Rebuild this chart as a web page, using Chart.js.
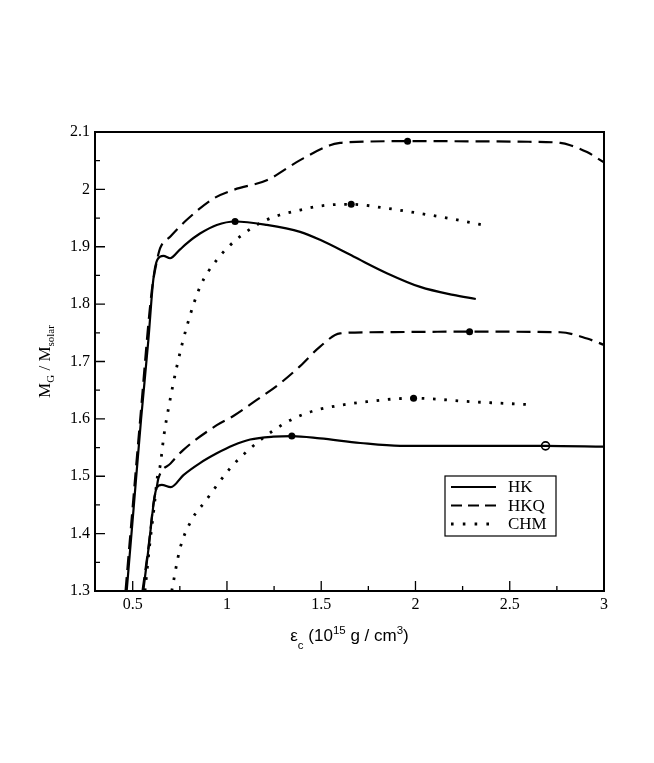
<!DOCTYPE html>
<html><head><meta charset="utf-8">
<script src="https://cdn.jsdelivr.net/npm/chart.js@4.4.1/dist/chart.umd.min.js"></script>
<style>html,body{margin:0;padding:0;background:#fff}#wrap{width:654px;height:763px}</style>
</head><body><div id="wrap"><canvas id="c" width="654" height="763"></canvas></div>
<script>
// ---- tick values ----
const xMajorTicks = [0.5, 1, 1.5, 2, 2.5, 3];
const xMinorTicks = [0.75, 1.25, 1.75, 2.25, 2.75];
const yMajorTicks = [1.3, 1.4, 1.5, 1.6, 1.7, 1.8, 1.9, 2.0, 2.1];
const yMinorTicks = [1.35, 1.45, 1.55, 1.65, 1.75, 1.85, 1.95, 2.05];
const legendLabels = ['HK', 'HKQ', 'CHM'];

// ---- upper family ----
const hk1X  = [0.468, 0.505, 0.544, 0.583, 0.609, 0.630, 0.663, 0.698, 0.750, 0.787, 0.857, 0.946, 1.043, 1.211, 1.388, 1.494, 1.671, 1.848, 2.025, 2.200, 2.320];
const hk1Y  = [1.300, 1.445, 1.598, 1.737, 1.842, 1.877, 1.884, 1.880, 1.895, 1.906, 1.923, 1.938, 1.944, 1.938, 1.926, 1.912, 1.883, 1.854, 1.830, 1.816, 1.809];
const hkq1X = [0.462, 0.540, 0.600, 0.625, 0.645, 0.700, 0.787, 0.928, 1.034, 1.211, 1.388, 1.547, 1.600, 1.636, 1.958, 2.600, 2.768, 2.821, 2.910, 3.000];
const hkq1Y = [1.300, 1.600, 1.820, 1.870, 1.897, 1.918, 1.947, 1.984, 1.999, 2.016, 2.051, 2.077, 2.081, 2.082, 2.084, 2.083, 2.081, 2.077, 2.065, 2.047];
const chm1X = [0.565, 0.590, 0.615, 0.631, 0.645, 0.666, 0.693, 0.734, 0.787, 0.857, 0.946, 1.070, 1.211, 1.388, 1.547, 1.659, 1.848, 2.025, 2.202, 2.388];
const chm1Y = [1.300, 1.380, 1.450, 1.499, 1.517, 1.572, 1.624, 1.691, 1.761, 1.830, 1.877, 1.918, 1.947, 1.964, 1.973, 1.974, 1.967, 1.958, 1.948, 1.936];

// ---- lower family ----
const hk2X  = [0.556, 0.585, 0.612, 0.627, 0.654, 0.702, 0.769, 0.857, 0.946, 1.034, 1.123, 1.246, 1.344, 1.494, 1.707, 1.919, 2.200, 2.690, 3.000];
const hk2Y  = [1.300, 1.377, 1.455, 1.480, 1.485, 1.481, 1.502, 1.523, 1.540, 1.554, 1.564, 1.569, 1.570, 1.566, 1.558, 1.553, 1.553, 1.553, 1.5515];
const hkq2X = [0.552, 0.585, 0.612, 0.628, 0.636, 0.700, 0.769, 0.946, 1.034, 1.158, 1.282, 1.388, 1.494, 1.600, 1.760, 2.287, 2.768, 2.910, 3.000];
const hkq2Y = [1.300, 1.380, 1.457, 1.482, 1.496, 1.522, 1.546, 1.589, 1.605, 1.633, 1.662, 1.692, 1.726, 1.749, 1.751, 1.752, 1.751, 1.740, 1.729];
const chm2X = [0.707, 0.751, 0.813, 0.884, 1.017, 1.105, 1.238, 1.350, 1.441, 1.494, 1.742, 1.990, 2.290, 2.595];
const chm2Y = [1.300, 1.374, 1.424, 1.456, 1.514, 1.543, 1.578, 1.600, 1.612, 1.617, 1.630, 1.636, 1.630, 1.625];

// ---- maximum-mass markers ----
const peakX = [1.043, 1.958, 1.659, 1.344, 2.287, 1.990];
const peakY = [1.944, 2.084, 1.974, 1.570, 1.752, 1.636];
const openX = [2.690];
const openY = [1.553];

const pts = (xs, ys) => xs.map((v, i) => ({x: v, y: ys[i]}));
const DASH = [14, 7];
const DOT = [2.6, 8.7];
function curve(xs, ys, kind) {
  const d = {
    data: pts(xs, ys), showLine: true, fill: false, pointRadius: 0, pointHoverRadius: 0,
    borderColor: '#000', borderWidth: 2.2, cubicInterpolationMode: 'monotone', borderCapStyle: 'butt'
  };
  if (kind === 'dash') d.borderDash = DASH;
  if (kind === 'dot') { d.borderDash = DOT; d.borderWidth = 2.8; }
  return d;
}

const deco = {
  id: 'deco',
  afterDraw(chart) {
    const {ctx, chartArea: a, scales: {x, y}} = chart;
    ctx.save();
    ctx.strokeStyle = '#000';
    ctx.lineWidth = 1.3;
    ctx.beginPath();
    xMajorTicks.forEach(v => { const p = x.getPixelForValue(v); ctx.moveTo(p, a.bottom); ctx.lineTo(p, a.bottom - 10); });
    xMinorTicks.forEach(v => { const p = x.getPixelForValue(v); ctx.moveTo(p, a.bottom); ctx.lineTo(p, a.bottom - 5); });
    yMajorTicks.forEach(v => { const p = y.getPixelForValue(v); ctx.moveTo(a.left, p); ctx.lineTo(a.left + 10, p); });
    yMinorTicks.forEach(v => { const p = y.getPixelForValue(v); ctx.moveTo(a.left, p); ctx.lineTo(a.left + 5, p); });
    ctx.stroke();
    ctx.lineWidth = 2;
    ctx.strokeRect(a.left, a.top, a.right - a.left, a.bottom - a.top);

    // legend
    const lx = 445, ly = 476, lw = 111, lh = 60;
    ctx.lineWidth = 1.2;
    ctx.strokeRect(lx, ly, lw, lh);
    const rows = [487, 505.5, 524];
    const styles = [[], [11, 6], [2.6, 9.2]];
    const widths = [2.2, 2.2, 2.8];
    ctx.font = '17px "Liberation Serif", "Times New Roman", serif';
    ctx.fillStyle = '#000';
    ctx.textBaseline = 'middle';
    ctx.textAlign = 'left';
    legendLabels.forEach((lab, i) => {
      ctx.beginPath();
      ctx.setLineDash(styles[i]);
      ctx.lineWidth = widths[i];
      ctx.moveTo(451, rows[i]); ctx.lineTo(496, rows[i]);
      ctx.stroke();
      ctx.setLineDash([]);
      ctx.fillText(lab, 508, rows[i] + 1);
    });

    // rich text helper
    function rich(segs, cx, base, mainFont, smallFont) {
      let w = 0;
      segs.forEach(s => { ctx.font = s.o ? smallFont : mainFont; s.w = ctx.measureText(s.t).width; w += s.w; });
      let px = cx - w / 2;
      ctx.textAlign = 'left';
      ctx.textBaseline = 'alphabetic';
      segs.forEach(s => { ctx.font = s.o ? smallFont : mainFont; ctx.fillText(s.t, px, base + (s.o || 0)); px += s.w; });
    }
    // x title
    rich([{t: 'ε'}, {t: 'c', o: 8}, {t: ' (10'}, {t: '15', o: -7}, {t: ' g / cm'}, {t: '3', o: -7}, {t: ')'}],
      (a.left + a.right) / 2, 641, '17px "Liberation Sans", Arial, sans-serif', '11.5px "Liberation Sans", Arial, sans-serif');
    // y title
    ctx.save();
    ctx.translate(49.5, (a.top + a.bottom) / 2);
    ctx.rotate(-Math.PI / 2);
    rich([{t: 'M'}, {t: 'G', o: 4.5}, {t: ' / M'}, {t: 'solar', o: 4.5}], 0, 0,
      '17px "Liberation Serif", "Times New Roman", serif', '11px "Liberation Serif", "Times New Roman", serif');
    ctx.restore();
    ctx.restore();
  }
};

const fmt = v => String(Math.round(v * 10) / 10);

new Chart(document.getElementById('c'), {
  type: 'scatter',
  data: {
    datasets: [
      curve(hk1X, hk1Y, 'solid'),
      curve(hkq1X, hkq1Y, 'dash'),
      curve(chm1X, chm1Y, 'dot'),
      curve(hk2X, hk2Y, 'solid'),
      curve(hkq2X, hkq2Y, 'dash'),
      curve(chm2X, chm2Y, 'dot'),
      { data: pts(peakX, peakY), pointRadius: 3.5, pointBackgroundColor: '#000', pointBorderColor: '#000', pointBorderWidth: 0, showLine: false },
      { data: pts(openX, openY), pointRadius: 4, pointBackgroundColor: '#fff', pointBorderColor: '#000', pointBorderWidth: 1.6, showLine: false }
    ]
  },
  options: {
    responsive: false, animation: false, devicePixelRatio: 1,
    layout: {padding: {left: 0, top: 132, right: 50, bottom: 0}},
    plugins: {legend: {display: false}, tooltip: {enabled: false}},
    scales: {
      x: {
        type: 'linear', min: 0.3, max: 3,
        grid: {display: false, drawTicks: false}, border: {display: false},
        afterBuildTicks: s => { s.ticks = xMajorTicks.map(v => ({value: v})); },
        afterFit: s => { s.height = 172; },
        ticks: {padding: 4, color: '#000', maxRotation: 0, autoSkip: false, callback: fmt,
          font: {family: '"Liberation Serif", "Times New Roman", serif', size: 16}}
      },
      y: {
        type: 'linear', min: 1.3, max: 2.1,
        grid: {display: false, drawTicks: false}, border: {display: false},
        afterBuildTicks: s => { s.ticks = yMajorTicks.map(v => ({value: v})); },
        afterFit: s => { s.width = 95; },
        ticks: {padding: 5, color: '#000', autoSkip: false, callback: fmt,
          font: {family: '"Liberation Serif", "Times New Roman", serif', size: 16}}
      }
    }
  },
  plugins: [deco]
});
</script></body></html>
